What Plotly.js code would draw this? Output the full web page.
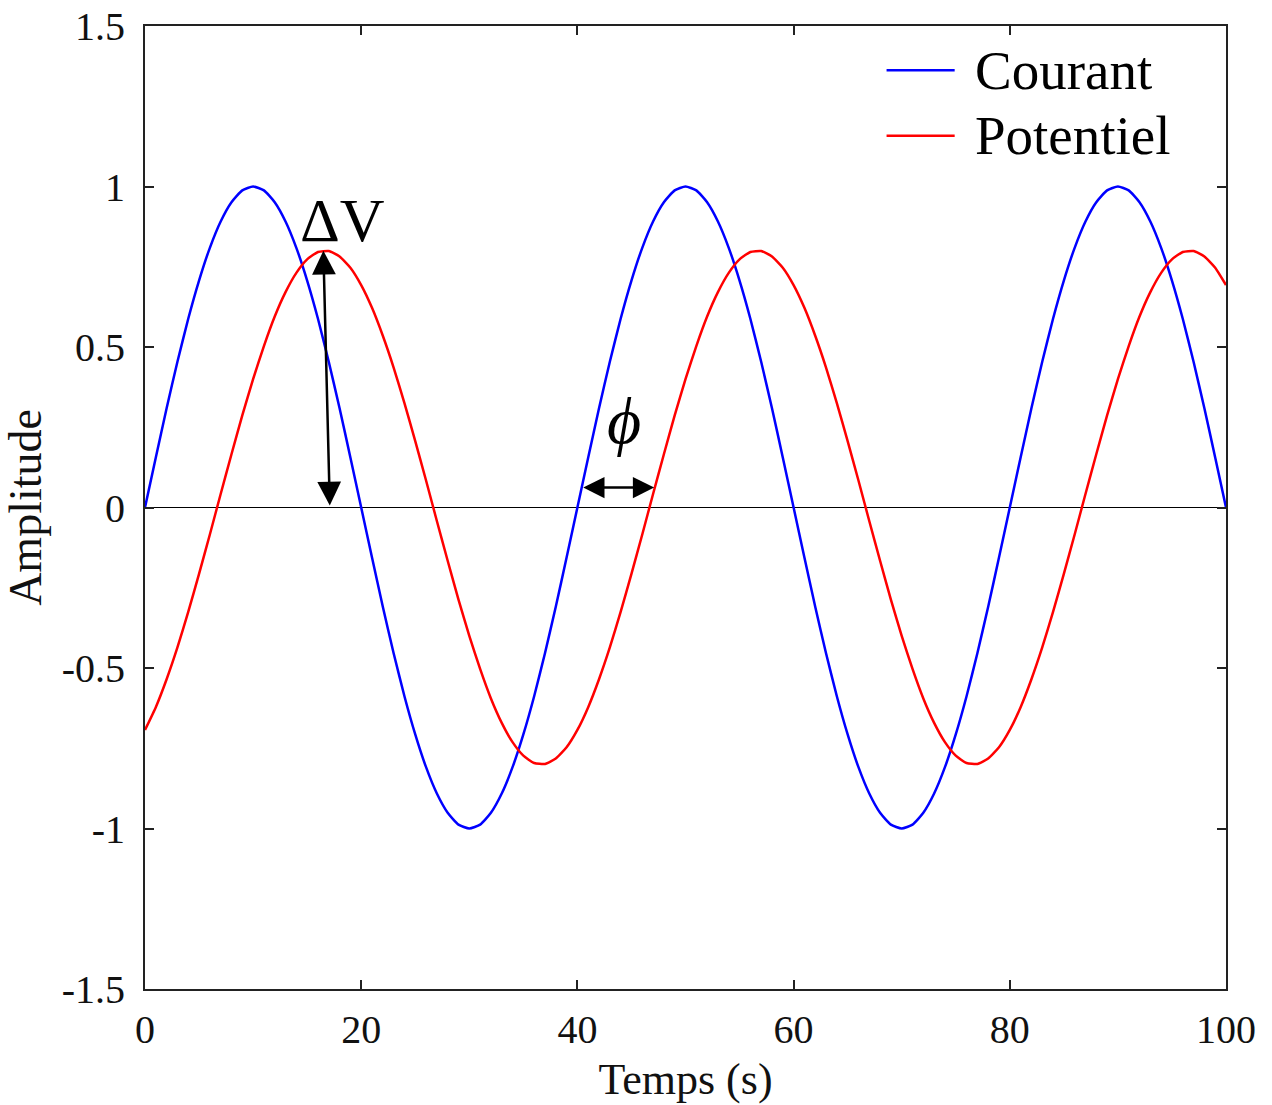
<!DOCTYPE html>
<html>
<head>
<meta charset="utf-8">
<script src="https://cdn.plot.ly/plotly-3.0.1.min.js"></script>
<style>html,body{margin:0;padding:0;background:#fff;}#chart{width:1272px;height:1105px;}</style>
</head>
<body>
<div id="chart"></div>
<script>
// Time axis (s)
const temps = [0,1,2,3,4,5,6,7,8,9,10,11,12,13,14,15,16,17,18,19,20,21,22,23,24,25,26,27,28,29,30,31,32,33,34,35,36,37,38,39,40,41,42,43,44,45,46,47,48,49,50,51,52,53,54,55,56,57,58,59,60,61,62,63,64,65,66,67,68,69,70,71,72,73,74,75,76,77,78,79,80,81,82,83,84,85,86,87,88,89,90,91,92,93,94,95,96,97,98,99,100];

// Courant (blue)
const courant = [
 0,0.156,0.309,0.454,0.588,0.707,0.809,0.891,0.951,0.988,1,0.988,0.951,0.891,0.809,0.707,0.588,0.454,0.309,0.156,
 0,-0.156,-0.309,-0.454,-0.588,-0.707,-0.809,-0.891,-0.951,-0.988,-1,-0.988,-0.951,-0.891,-0.809,-0.707,-0.588,-0.454,-0.309,-0.156,
 0,0.156,0.309,0.454,0.588,0.707,0.809,0.891,0.951,0.988,1,0.988,0.951,0.891,0.809,0.707,0.588,0.454,0.309,0.156,
 0,-0.156,-0.309,-0.454,-0.588,-0.707,-0.809,-0.891,-0.951,-0.988,-1,-0.988,-0.951,-0.891,-0.809,-0.707,-0.588,-0.454,-0.309,-0.156,
 0,0.156,0.309,0.454,0.588,0.707,0.809,0.891,0.951,0.988,1,0.988,0.951,0.891,0.809,0.707,0.588,0.454,0.309,0.156,
 0];

// Potentiel (red)
const potentiel = [
 -0.693,-0.622,-0.535,-0.436,-0.325,-0.207,-0.084,0.042,0.166,0.287,0.400,0.503,0.595,0.671,0.731,0.773,0.796,0.799,0.782,0.747,
 0.693,0.622,0.535,0.436,0.325,0.207,0.084,-0.042,-0.166,-0.287,-0.400,-0.503,-0.595,-0.671,-0.731,-0.773,-0.796,-0.799,-0.782,-0.747,
 -0.693,-0.622,-0.535,-0.436,-0.325,-0.207,-0.084,0.042,0.166,0.287,0.400,0.503,0.595,0.671,0.731,0.773,0.796,0.799,0.782,0.747,
 0.693,0.622,0.535,0.436,0.325,0.207,0.084,-0.042,-0.166,-0.287,-0.400,-0.503,-0.595,-0.671,-0.731,-0.773,-0.796,-0.799,-0.782,-0.747,
 -0.693,-0.622,-0.535,-0.436,-0.325,-0.207,-0.084,0.042,0.166,0.287,0.400,0.503,0.595,0.671,0.731,0.773,0.796,0.799,0.782,0.747,
 0.693];

const seriesNames = ["Courant", "Potentiel"];
const seriesColors = ["#0000ff", "#ff0000"];

const xTickVals = [0,20,40,60,80,100];
const xTickText = ["0","20","40","60","80","100"];
const yTickVals = [-1.5,-1,-0.5,0,0.5,1,1.5];
const yTickText = ["-1.5","-1","-0.5","0","0.5","1","1.5"];

// Annotation anchors (data units)
const dvArrow = {xTop: 16.5, yTop: 0.8, xBot: 17.1, yBot: 0};
const dvLabel = {x: 18.3, y: 0.895, text: "ΔV"};
const phiArrow = {x0: 40.4, x1: 47.1, y: 0.062};
const phiLabel = {x: 44.3, y: 0.27, text: "<i>ϕ</i>"};

const FONT = "Liberation Serif, Times New Roman, serif";

const traces = [
  {x: temps, y: courant, type: "scatter", mode: "lines", name: seriesNames[0],
   line: {color: seriesColors[0], width: 2.5, shape: "spline", smoothing: 0.5, simplify: false}},
  {x: temps, y: potentiel, type: "scatter", mode: "lines", name: seriesNames[1],
   line: {color: seriesColors[1], width: 2.5, shape: "spline", smoothing: 0.5, simplify: false}}
];

const axisCommon = {
  showline: true, linecolor: "#222", linewidth: 2, mirror: "ticks",
  ticks: "inside", ticklen: 9, tickwidth: 2, tickcolor: "#222",
  showgrid: false, tickfont: {family: FONT, size: 40, color: "#111"}
};

const legendY = [0.954, 0.886];
const shapes = seriesNames.map((n, i) => ({
  type: "line", xref: "paper", yref: "paper",
  x0: 0.686, x1: 0.749, y0: legendY[i], y1: legendY[i],
  line: {color: seriesColors[i], width: 2.5}
}));

const annotations = [
  // ΔV double arrow
  {x: dvArrow.xTop, y: dvArrow.yTop, ax: dvArrow.xBot, ay: dvArrow.yBot,
   xref: "x", yref: "y", axref: "x", ayref: "y", text: " ", font: {size: 1},
   showarrow: true, arrowside: "end+start", arrowhead: 2, arrowsize: 1.9,
   arrowwidth: 2.5, arrowcolor: "#000", standoff: 0, startstandoff: 0},
  {x: dvLabel.x, y: dvLabel.y, xref: "x", yref: "y", text: dvLabel.text,
   showarrow: false, font: {family: FONT, size: 62, color: "#000"}},
  // phase double arrow
  {x: phiArrow.x1, y: phiArrow.y, ax: phiArrow.x0, ay: phiArrow.y,
   xref: "x", yref: "y", axref: "x", ayref: "y", text: " ", font: {size: 1},
   showarrow: true, arrowside: "end+start", arrowhead: 2, arrowsize: 1.7,
   arrowwidth: 2.5, arrowcolor: "#000", standoff: 0, startstandoff: 0},
  {x: phiLabel.x, y: phiLabel.y, xref: "x", yref: "y", text: phiLabel.text,
   showarrow: false, font: {family: FONT, size: 66, color: "#000"}}
].concat(seriesNames.map((n, i) => ({
  xref: "paper", yref: "paper", x: 0.766, y: legendY[i], xanchor: "left", yanchor: "middle",
  text: n, showarrow: false, font: {family: FONT, size: 55, color: "#000"}
})));

const layout = {
  width: 1272, height: 1105,
  margin: {l: 145, r: 46, t: 26, b: 116},
  paper_bgcolor: "#fff", plot_bgcolor: "#fff",
  showlegend: false,
  font: {family: FONT, color: "#111"},
  xaxis: Object.assign({}, axisCommon, {
    range: [0, 100], tickvals: xTickVals, ticktext: xTickText, zeroline: false,
    ticklabelstandoff: 4,
    title: {text: "Temps (s)", font: {family: FONT, size: 44, color: "#111"}, standoff: 12}
  }),
  yaxis: Object.assign({}, axisCommon, {
    range: [-1.5, 1.5], tickvals: yTickVals, ticktext: yTickText,
    zeroline: true, zerolinecolor: "#000", zerolinewidth: 1,
    ticklabelstandoff: 10,
    title: {text: "Amplitude", font: {family: FONT, size: 46, color: "#111"}, standoff: 6}
  }),
  shapes: shapes,
  annotations: annotations
};

Plotly.newPlot("chart", traces, layout, {displayModeBar: false, staticPlot: true});
</script>
</body>
</html>
